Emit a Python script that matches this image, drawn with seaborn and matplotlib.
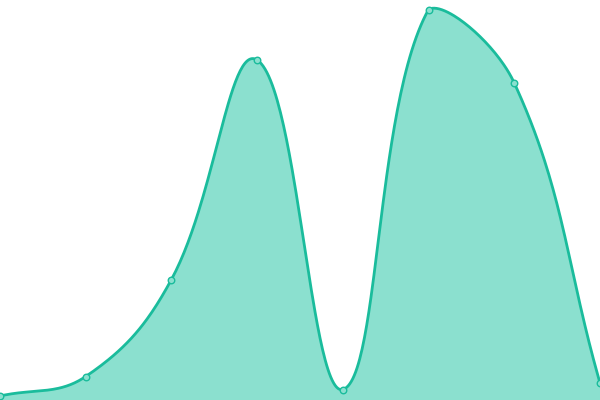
import numpy as np
import matplotlib
matplotlib.use('Agg')
import matplotlib.pyplot as plt
import seaborn as sns

# data (one value per point, 0 = bottom, 400 = top)
labels = ['1', '2', '3', '4', '5', '6', '7', '8']
values = [4, 23.5, 120.5, 340, 10.5, 390.5, 317, 17]

line_color = '#1abc9c'
fill_color = '#8be0cf'
tension = 0.4
W, H = 600, 400

sns.set_theme(style='white')

n = len(values)
xs = np.arange(n)
# work in pixel units so the spline looks like the original canvas one
px = xs * W / (n - 1)
py = np.array(values, dtype=float)


def control_points(px, py, t):
    cps = []
    for i in range(len(px)):
        p = np.array([px[i], py[i]])
        prev = np.array([px[max(i - 1, 0)], py[max(i - 1, 0)]])
        nxt = np.array([px[min(i + 1, len(px) - 1)], py[min(i + 1, len(px) - 1)]])
        d01 = np.hypot(*(p - prev))
        d12 = np.hypot(*(nxt - p))
        tot = d01 + d12
        s01 = d01 / tot if tot else 0
        s12 = d12 / tot if tot else 0
        c_prev = p - t * s01 * (nxt - prev)
        c_next = p + t * s12 * (nxt - prev)
        c_prev = np.clip(c_prev, [0, 0], [W, H])
        c_next = np.clip(c_next, [0, 0], [W, H])
        cps.append((c_prev, c_next))
    return cps


cps = control_points(px, py, tension)
cx, cy = [], []
u = np.linspace(0, 1, 60)
for i in range(n - 1):
    p0 = np.array([px[i], py[i]])
    p1 = cps[i][1]
    p2 = cps[i + 1][0]
    p3 = np.array([px[i + 1], py[i + 1]])
    seg = ((1 - u) ** 3)[:, None] * p0 + (3 * (1 - u) ** 2 * u)[:, None] * p1 \
        + (3 * (1 - u) * u ** 2)[:, None] * p2 + (u ** 3)[:, None] * p3
    cx.extend(seg[:, 0])
    cy.extend(seg[:, 1])
cx = np.array(cx) * (n - 1) / W
cy = np.array(cy)

fig = plt.figure(figsize=(6, 4), dpi=100)
ax = fig.add_axes([0, 0, 1, 1])
ax.fill_between(cx, cy, 0, color=fill_color, linewidth=0)
sns.lineplot(x=cx, y=cy, sort=False, color=line_color, linewidth=2.0, ax=ax)
sns.scatterplot(x=xs, y=values, s=22, color=fill_color, edgecolor=line_color,
                linewidth=1.0, ax=ax, zorder=5, clip_on=False)
ax.set_xlim(0, n - 1)
ax.set_ylim(0, H)
ax.set_axis_off()
fig.savefig('out.png', dpi=100)
